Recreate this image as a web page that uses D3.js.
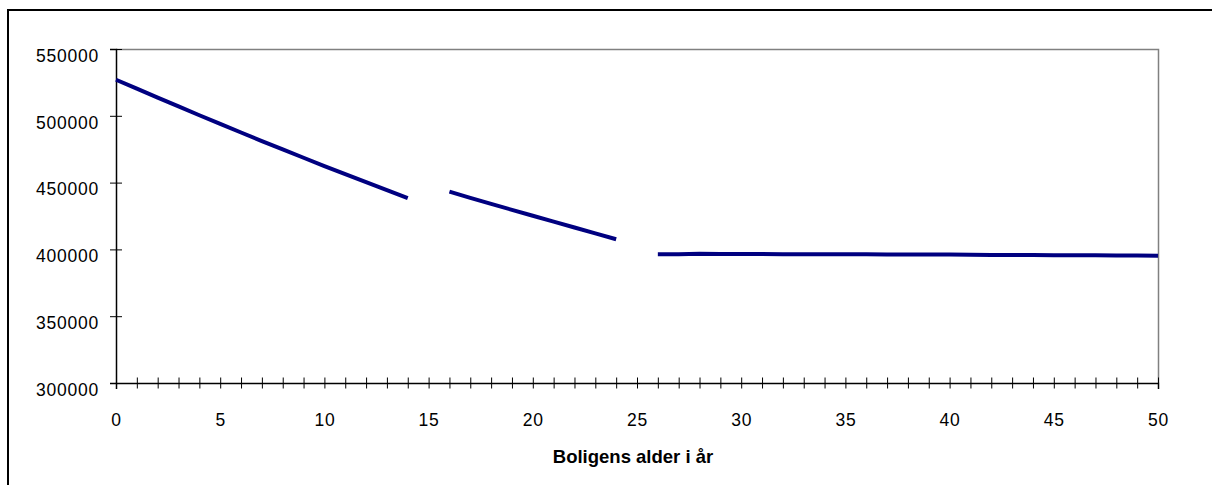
<!DOCTYPE html>
<html>
<head>
<meta charset="utf-8">
<script src="https://cdn.jsdelivr.net/npm/d3@7"></script>
<style>
  html, body { margin: 0; padding: 0; background: #fff; }
  svg { display: block; }
  text { font-family: Arial, "Liberation Sans", sans-serif; fill: #000; }
</style>
</head>
<body>
<svg id="chart" width="1212" height="485"></svg>
<script>
// Data: ages (years) and values; null = gap
const ages = d3.range(0, 51);
const values = [
  527000, 520300, 513600, 507000, 500400, 493900, 487500, 481100, 474800, 468600,
  462400, 456300, 450300, 444300, 438400, null, 443200, 438600, 434100, 429600,
  425200, 420800, 416400, 412000, 407600, null, 396400, 396400, 396700, 396600,
  396500, 396500, 396400, 396400, 396400, 396300, 396300, 396200, 396200, 396100,
  396100, 396000, 395900, 395900, 395800, 395700, 395700, 395600, 395500, 395400,
  395300
];
const yTicks = [300000, 350000, 400000, 450000, 500000, 550000];
const xLabelTicks = [0, 5, 10, 15, 20, 25, 30, 35, 40, 45, 50];
const xTitle = "Boligens alder i år";

const svg = d3.select("#chart");
const L = 116, R = 1158, T = 49, B = 383;
const x = d3.scaleLinear().domain([0, 50]).range([L, R]);
const y = d3.scaleLinear().domain([300000, 550000]).range([B, T]);

// outer frame (left and top only visible)
svg.append("line").attr("x1", 8).attr("x2", 8).attr("y1", 9).attr("y2", 485)
  .attr("stroke", "#000").attr("stroke-width", 2);
svg.append("line").attr("x1", 7).attr("x2", 1212).attr("y1", 10).attr("y2", 10)
  .attr("stroke", "#000").attr("stroke-width", 2);

// plot frame top/right (gray)
svg.append("path")
  .attr("d", `M${L},${T + 0.5}H${R + 0.5}V${B}`)
  .attr("fill", "none").attr("stroke", "#808080").attr("stroke-width", 1.5);

const tickFont = "17.5px";
const tickSpacing = "0.75px";

// y axis
const yAxis = d3.axisLeft(y).tickValues(yTicks).tickSize(6).tickPadding(12)
  .tickFormat(d3.format("d"));
const gy = svg.append("g").attr("transform", `translate(${L},0)`).call(yAxis);
gy.select(".domain").attr("stroke", "#000").attr("stroke-width", 1.5);
gy.selectAll(".tick line").attr("x2", 6).attr("x1", -6).attr("stroke", "#000");
gy.selectAll(".tick text").attr("font-size", tickFont)
  .attr("letter-spacing", tickSpacing)
  .attr("font-family", "Arial, 'Liberation Sans', sans-serif")
  .attr("dy", "0.7em").attr("x", -17);

// x axis (minor ticks every year, labels every 5)
const xAxis = d3.axisBottom(x).tickValues(ages).tickSize(6).tickPadding(0)
  .tickFormat(d => xLabelTicks.includes(d) ? d : "");
const gx = svg.append("g").attr("transform", `translate(0,${B})`).call(xAxis);
gx.select(".domain").attr("stroke", "#000").attr("stroke-width", 1.5);
gx.selectAll(".tick line").attr("y1", -5.5).attr("y2", 5.5).attr("stroke", "#000");
gx.selectAll(".tick text").attr("font-size", tickFont)
  .attr("letter-spacing", tickSpacing)
  .attr("font-family", "Arial, 'Liberation Sans', sans-serif")
  .attr("y", 43).attr("dy", 0);

// axis title
svg.append("text").attr("x", 633).attr("y", 463).attr("text-anchor", "middle")
  .attr("font-size", "18.5px").attr("font-weight", "bold").text(xTitle);

// line
const line = d3.line()
  .defined(d => d.v !== null)
  .x(d => x(d.a)).y(d => y(d.v));
const data = ages.map((a, i) => ({ a, v: values[i] }));
svg.append("path").datum(data)
  .attr("d", line)
  .attr("fill", "none").attr("stroke", "#000080").attr("stroke-width", 4)
  .attr("stroke-linejoin", "round");
</script>
</body>
</html>
